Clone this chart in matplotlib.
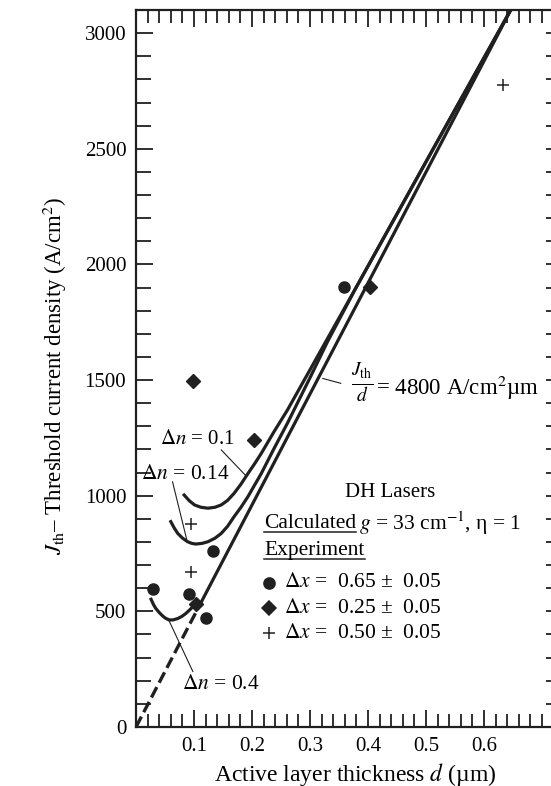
import numpy as np
import matplotlib
matplotlib.use("Agg")
import matplotlib.pyplot as plt
from matplotlib.ticker import MultipleLocator, FixedLocator

plt.rcParams['font.family'] = ['Liberation Serif', 'DejaVu Serif']
plt.rcParams['mathtext.fontset'] = 'stix'

# J_th/d = 4800 line (dashed up to d_dash_end, solid above)
line_d = [0.0, 0.11, 0.646]
line_j = [0, 528, 3100]

# calculated curves
dn01_d = [0.083, 0.092, 0.101, 0.112, 0.124, 0.136, 0.147, 0.158, 0.169, 0.181, 0.193,
          0.205, 0.216, 0.238, 0.261, 0.379, 0.54, 0.646]
dn01_j = [1003, 978, 960, 950, 946, 950, 960, 980, 1010, 1050, 1096,
          1140, 1183, 1277, 1370, 1898, 2624, 3100]

dn014_d = [0.060, 0.066, 0.072, 0.080, 0.089, 0.096, 0.103, 0.114, 0.124, 0.136, 0.147,
           0.158, 0.169, 0.181, 0.193, 0.216, 0.238, 0.261, 0.30, 0.33, 0.379, 0.54, 0.646]
dn014_j = [888, 860, 837, 817, 801, 794, 791, 794, 801, 816, 837,
           868, 909, 950, 996, 1096, 1204, 1313, 1510, 1665, 1898, 2624, 3100]

dn04_d = [0.026, 0.030, 0.034, 0.040, 0.046, 0.051, 0.057, 0.064, 0.072, 0.079, 0.086, 0.092, 0.098, 0.105, 0.112]
dn04_j = [552, 530, 513, 495, 480, 470, 463, 463, 469, 478, 491, 505, 520, 530, 538]

# experiment
circ_d = [0.029, 0.092, 0.132, 0.121, 0.358]
circ_j = [597, 574, 763, 470, 1901]
diam_d = [0.099, 0.204, 0.403, 0.104]
diam_j = [1496, 1241, 1901, 530]
plus_d = [0.094, 0.094, 0.632]
plus_j = [876, 671, 2776]

legend_labels = ["0.65", "0.25", "0.50"]

ink = '#202020'

fig = plt.figure(figsize=(5.51, 7.86), dpi=100)
ax = fig.add_axes([136 / 551, 1 - 727 / 786, 0.72 * 580 / 551, 717 / 786])
ax.set_xlim(0, 0.72)
ax.set_ylim(0, 3100)

ax.plot(line_d[:2], line_j[:2], color=ink, lw=2.4, dashes=(3.5, 1.5), solid_capstyle='butt')
ax.plot(line_d[1:], line_j[1:], color=ink, lw=2.3)
ax.plot(dn01_d, dn01_j, color=ink, lw=2.3)
ax.plot(dn014_d, dn014_j, color=ink, lw=2.3)
ax.plot(dn04_d, dn04_j, color=ink, lw=2.3)

ax.plot(circ_d, circ_j, 'o', color=ink, ms=8, zorder=5)
ax.plot(diam_d, diam_j, 'D', color=ink, ms=7, zorder=5)
ax.plot(plus_d, plus_j, '+', color=ink, ms=8, mew=1.1, zorder=5)

# leader lines
ax.plot([0.147, 0.19], [1198, 1085], color=ink, lw=0.8)
ax.plot([0.063, 0.088], [1060, 805], color=ink, lw=0.8)
ax.plot([0.055, 0.098], [470, 240], color=ink, lw=0.8)
ax.plot([0.322, 0.353], [1507, 1486], color=ink, lw=0.8)

ax.text(0.105, 1241, r"$\Delta n$ = 0.1", fontsize=15, ha='center', va='center')
ax.text(0.009, 1090, r"$\Delta n$ = 0.14", fontsize=15.5, ha='left', va='center')
ax.text(0.147, 182, r"$\Delta n$ = 0.4", fontsize=15.5, ha='center', va='center')
ax.text(0.389, 1487, r"$\frac{J_{\mathrm{th}}}{d}$", fontsize=20, ha='center', va='center')
ax.text(0.414, 1466, "= 4800 A/cm$^2$µm", fontsize=16.5, ha='left', va='center')

ax.text(0.438, 1012, "DH Lasers", fontsize=15, ha='center', va='center')

fig.canvas.draw()
renderer = fig.canvas.get_renderer()
inv = ax.transData.inverted()


def underline(t):
    bb = t.get_window_extent(renderer)
    (x0, y0), (x1, _) = inv.transform([(bb.x0, bb.y0 + 1), (bb.x1, bb.y0)])
    ax.plot([x0, x1], [y0, y0], color=ink, lw=1.1)
    return bb


rowfs = 15.5
t_calc = ax.text(0.221, 882, "Calculated", fontsize=rowfs, ha='left', va='center')
bb = underline(t_calc)
xr = inv.transform((bb.x1 + 3, bb.y0))[0]
ax.text(xr, 882, r"$g$ = 33 cm$^{-1}$, η = 1", fontsize=rowfs, ha='left', va='center')
t_exp = ax.text(0.221, 765, "Experiment", fontsize=rowfs, ha='left', va='center')
underline(t_exp)

leg_j = [623, 514, 406]
for mk, ms, lab, jj in zip(['o', 'D', '+'], [8, 7, 8], legend_labels, leg_j):
    ax.plot([0.229], [jj], mk, color=ink, ms=ms, mew=1.1)
    ax.text(0.255, jj, r"$\Delta x$ =  " + lab + " ±  0.05", fontsize=rowfs, ha='left', va='center')

# axes styling
for s in ax.spines.values():
    s.set_linewidth(1.6)
    s.set_color(ink)
ax.xaxis.set_major_locator(FixedLocator([0.1, 0.2, 0.3, 0.4, 0.5, 0.6]))
ax.xaxis.set_minor_locator(MultipleLocator(0.02))
ax.yaxis.set_major_locator(MultipleLocator(500))
ax.yaxis.set_minor_locator(MultipleLocator(100))
ax.set_xticklabels(["0.1", "0.2", "0.3", "0.4", "0.5", "0.6"])
ax.tick_params(axis='x', which='both', direction='in', top=True, width=1.3, color=ink,
               labelsize=15, pad=7)
ax.tick_params(axis='x', which='major', length=12)
ax.tick_params(axis='x', which='minor', length=9.5)
ax.tick_params(axis='y', which='both', direction='in', right=False, width=1.3, color=ink,
               labelsize=15, pad=7)
ax.tick_params(axis='y', which='major', length=12.5)
ax.tick_params(axis='y', which='minor', length=10.5)

ax2 = ax.twinx()
ax2.set_ylim(ax.get_ylim())
ax2.yaxis.set_major_locator(MultipleLocator(100))
ax2.tick_params(axis='y', direction='in', length=6, width=1.3, color=ink, labelright=False)
for s in ax2.spines.values():
    s.set_visible(False)

fig.text(55 / 551, 1 - 376 / 786, r"$J_{\mathrm{th}}$– Threshold current density (A/cm$^2$)",
         rotation=90, ha='center', va='center', fontsize=16.5)
fig.text(355 / 551, 1 - 774 / 786, "Active layer thickness $d$ (µm)",
         ha='center', va='center', fontsize=17)

fig.savefig("out.png", dpi=100)
